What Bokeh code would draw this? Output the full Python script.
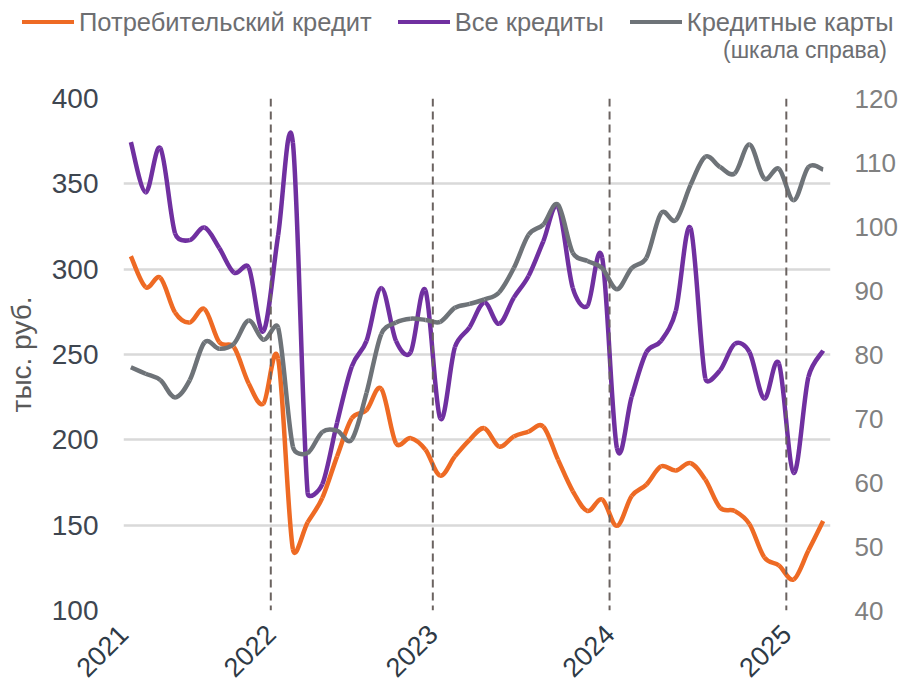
import math
from bokeh.plotting import figure
from bokeh.layouts import column
from bokeh.models import Range1d, LinearAxis, FixedTicker, Span, Div
from bokeh.embed import file_html
from bokeh.resources import INLINE

# ---------------- data (monthly) ----------------
year_labels = ["2021", "2022", "2023", "2024", "2025"]
points_per_year = [10, 11, 12, 12, 3]

consumer = [307.6, 289.5, 295.0, 274.6, 268.8, 276.6, 257.2, 254.3, 233.0, 221.3,
            247.5, 136.0, 151.6, 166.0, 190.3, 212.6, 217.4, 230.0, 198.0, 201.0,
            194.2, 179.0, 190.3, 200.0, 206.8, 196.1, 202.0, 204.8, 207.8, 188.4,
            170.0, 158.3, 165.0, 149.6, 167.1, 173.8, 184.5, 182.0, 186.4, 176.7,
            160.3, 158.3, 150.6, 131.2, 126.4, 118.2, 135.1, 152.5]

all_loans = [374.4, 345.0, 371.0, 321.0, 317.0, 324.4, 312.4, 298.0, 301.0, 263.6,
             320.0, 374.0, 169.0, 174.0, 210.0, 243.0, 258.0, 289.0, 258.0, 251.4,
             287.6, 212.6, 254.3, 266.0, 280.4, 268.0, 283.3, 296.0, 316.3, 336.6,
             289.0, 278.5, 306.6, 195.2, 225.2, 251.4, 258.0, 275.6, 324.0, 236.0,
             240.7, 256.2, 251.4, 224.2, 244.6, 180.6, 236.8, 252.3]

cards = [78.0, 77.0, 76.0, 73.3, 76.0, 81.9, 80.9, 81.7, 85.3, 82.3,
         84.2, 65.6, 64.6, 67.9, 68.1, 66.7, 74.0, 83.2, 85.0, 85.6,
         85.4, 85.1, 87.3, 87.9, 88.6, 89.7, 93.5, 98.7, 100.3, 103.4,
         95.9, 94.6, 93.5, 90.2, 93.5, 95.1, 102.1, 101.0, 106.5, 110.9,
         109.3, 108.3, 112.8, 107.5, 109.0, 104.1, 109.3, 108.9]

series_names = ["Потребительский кредит", "Все кредиты", "Кредитные карты"]
right_note = "(шкала справа)"
y_title = "тыс. руб."
left_ticks = [100, 150, 200, 250, 300, 350, 400]
right_ticks = [40, 50, 60, 70, 80, 90, 100, 110, 120]

# ---------------- layout constants ----------------
FONT = "Liberation Sans"
ORANGE = "#EE6A24"
PURPLE = "#7030A0"
GRAY = "#6E7378"
COLORS = [ORANGE, PURPLE, GRAY]
TXT = "#6D6E71"
W = 902
LEG_H = 70
H = 688 - LEG_H
B_LEFT, B_RIGHT, B_TOP, B_BOTTOM = 123, 72, 28, 74
FRAME_W = W - B_LEFT - B_RIGHT
FRAME_H = H - B_TOP - B_BOTTOM

n = len(consumer)
xs = [i + 0.5 for i in range(n)]
boundaries = [0]
for c in points_per_year[:-1]:
    boundaries.append(boundaries[-1] + c)


def smooth(x, y, y_span, cap=0.5):
    """Smoothed line as cubic Bezier segments (Catmull-Rom tangents computed in
    screen space, with control arms capped relative to the segment length)."""
    kx = FRAME_W / n
    ky = FRAME_H / y_span
    px = [v * kx for v in x]
    py = [v * ky for v in y]
    m = len(px)
    tang = []
    for i in range(m):
        a = max(i - 1, 0)
        b = min(i + 1, m - 1)
        tang.append(((px[b] - px[a]) / 6, (py[b] - py[a]) / 6))

    def arm(tv, L):
        ln = math.hypot(*tv)
        lim = cap * L
        if ln > lim and ln > 0:
            return (tv[0] * lim / ln, tv[1] * lim / ln)
        return tv

    d = dict(x0=[], y0=[], x1=[], y1=[], cx0=[], cy0=[], cx1=[], cy1=[])
    for i in range(m - 1):
        L = math.hypot(px[i + 1] - px[i], py[i + 1] - py[i])
        a0 = arm(tang[i], L)
        a1 = arm(tang[i + 1], L)
        d["x0"].append(x[i]); d["y0"].append(y[i])
        d["x1"].append(x[i + 1]); d["y1"].append(y[i + 1])
        d["cx0"].append((px[i] + a0[0]) / kx); d["cy0"].append((py[i] + a0[1]) / ky)
        d["cx1"].append((px[i + 1] - a1[0]) / kx); d["cy1"].append((py[i + 1] - a1[1]) / ky)
    return d


# ---------------- legend strip (HTML) ----------------
items_html = ""
for i, (nm, col) in enumerate(zip(series_names, COLORS)):
    ml = "0" if i == 0 else "26px"
    items_html += (
        f'<span style="display:inline-flex;align-items:center;margin-left:{ml}">'
        f'<span style="display:inline-block;width:52px;height:4px;background:{col};'
        f'margin-right:5px"></span>{nm}</span>')
legend_html = (
    f'<div style="position:relative;width:{W}px;height:{LEG_H}px;'
    f'font-family:\'{FONT}\';color:{TXT};white-space:nowrap;">'
    f'<div style="position:absolute;left:22px;top:0;height:44px;display:flex;'
    f'align-items:center;font-size:25.5px;">{items_html}</div>'
    f'<div style="position:absolute;right:15px;top:36px;height:28px;line-height:28px;'
    f'font-size:23px;">{right_note}</div>'
    f'</div>')
leg = Div(text=legend_html, width=W, height=LEG_H, margin=(0, 0, 0, 0))

# ---------------- main chart ----------------
p = figure(width=W, height=H, x_range=Range1d(0, n),
           y_range=Range1d(100, 400),
           output_backend="svg", toolbar_location=None,
           min_border_left=B_LEFT, min_border_right=B_RIGHT,
           min_border_top=B_TOP, min_border_bottom=B_BOTTOM, margin=(0, 0, 0, 0))
p.extra_y_ranges = {"right": Range1d(40, 120)}
p.outline_line_color = None

p.xgrid.visible = False
p.ygrid.ticker = FixedTicker(ticks=left_ticks)
p.ygrid.grid_line_color = "#D9D9D9"
p.ygrid.grid_line_width = 2.5

for b in boundaries[1:]:
    p.add_layout(Span(location=b, dimension="height", line_color="#6B6360",
                      line_width=2, line_dash="8 5"))

for vals, col, rng, span in [(consumer, ORANGE, "default", 300),
                             (all_loans, PURPLE, "default", 300),
                             (cards, GRAY, "right", 80)]:
    p.bezier(source=smooth(xs, vals, span), x0="x0", y0="y0", x1="x1", y1="y1",
             cx0="cx0", cy0="cy0", cx1="cx1", cy1="cy1",
             line_color=col, line_width=4.5, y_range_name=rng)

ra = LinearAxis(y_range_name="right", ticker=FixedTicker(ticks=right_ticks))
p.add_layout(ra, "right")

for ax in [p.xaxis[0], p.yaxis[0], ra]:
    ax.axis_line_color = None
    ax.major_tick_line_color = None
    ax.minor_tick_line_color = None
    ax.major_tick_out = 0
    ax.major_tick_in = 0
    ax.minor_tick_out = 0
    ax.major_label_text_font = FONT

p.yaxis[0].ticker = FixedTicker(ticks=left_ticks)
p.yaxis[0].major_label_text_font_size = "28px"
p.yaxis[0].major_label_text_color = "#3E4650"
p.yaxis[0].major_label_standoff = 25
p.yaxis[0].axis_label = y_title
p.yaxis[0].axis_label_text_font = FONT
p.yaxis[0].axis_label_text_font_size = "28px"
p.yaxis[0].axis_label_text_font_style = "normal"
p.yaxis[0].axis_label_text_color = "#595959"
p.yaxis[0].axis_label_standoff = 12

ra.major_label_text_font_size = "26px"
ra.major_label_text_color = "#808080"
ra.major_label_standoff = 24

p.xaxis.ticker = FixedTicker(ticks=boundaries)
p.xaxis.major_label_overrides = {b: lab for b, lab in zip(boundaries, year_labels)}
p.xaxis.major_label_orientation = math.pi / 4
p.xaxis.major_label_text_font_size = "27px"
p.xaxis.major_label_text_color = "#2E3A46"
p.xaxis.major_label_standoff = 19

layout = column(leg, p, spacing=0)
open("out.html", "w").write(file_html(layout, INLINE))
